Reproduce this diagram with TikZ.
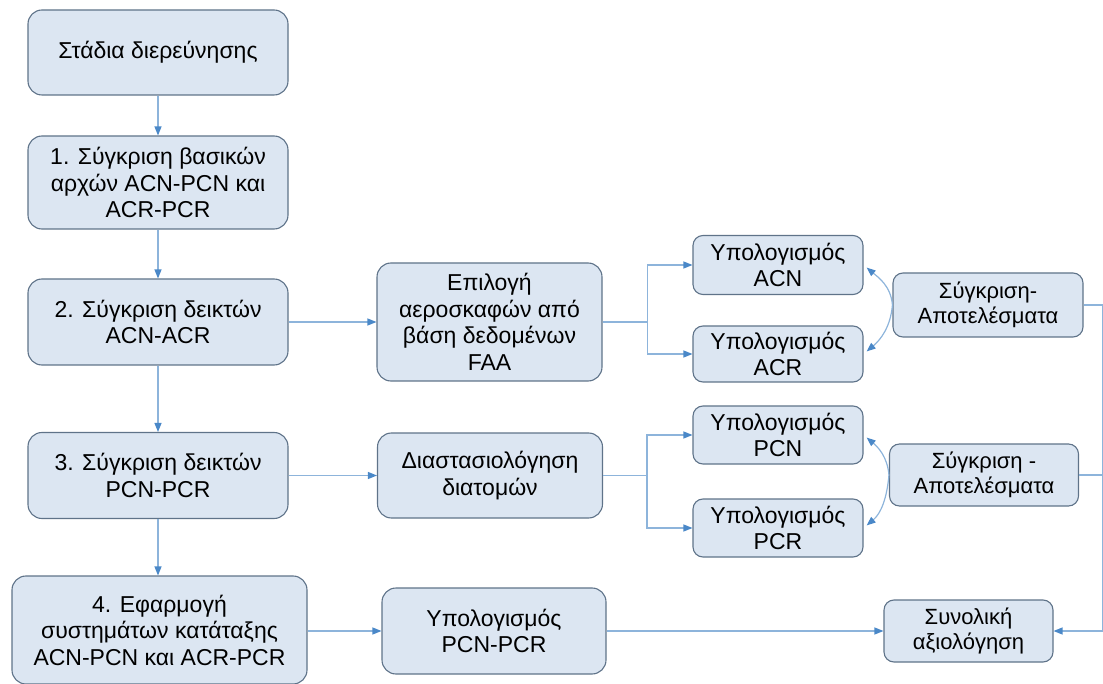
\documentclass[tikz,border=0pt]{standalone}
\usepackage{fontspec}
\setmainfont{Liberation Sans}
\usetikzlibrary{positioning, arrows.meta, calc}
\definecolor{boxfill}{HTML}{DCE6F2}
\definecolor{boxline}{HTML}{5F7389}
\definecolor{linkblue}{HTML}{8DB4DB}
\definecolor{tipblue}{HTML}{4A88C8}

\begin{document}
\begin{tikzpicture}[x=1pt, y=-1pt,
          b/.style={draw=boxline, fill=boxfill, line width=1.1pt, rounded corners=14pt, align=center,
                    font=\fontsize{23}{26.5}\selectfont, inner sep=2pt},
          s/.style={b, rounded corners=10pt},
          r/.style={s, font=\fontsize{22}{24.5}\selectfont},
          ln/.style={draw=linkblue, line width=1.2pt, -{Triangle[length=9pt, width=7pt, color=tipblue]}},
          pl/.style={draw=linkblue, line width=1.2pt}]
        \useasboundingbox (0,0) rectangle (1103,684);
        % left column: stages
        \node[b, minimum width=260pt, minimum height=85pt] (st) at (158,52.5) {Στάδια διερεύνησης};
        \node[b, minimum width=260pt, minimum height=93pt] (s1) at (158,182.5) {1. Σύγκριση βασικών\\αρχών ACN-PCN και\\ACR-PCR};
        \node[b, minimum width=260pt, minimum height=86pt] (s2) at (158,322) {2. Σύγκριση δεικτών\\ACN-ACR};
        \node[b, minimum width=260pt, minimum height=86pt] (s3) at (158,475.5) {3. Σύγκριση δεικτών\\PCN-PCR};
        \node[b, minimum width=295pt, minimum height=108pt] (s4) at (159.5,630) {4. Εφαρμογή\\συστημάτων κατάταξης\\ACN-PCN και ACR-PCR};
        % middle column
        \node[b, minimum width=225pt, minimum height=118pt] (sel) at (489.5,322) {Επιλογή\\αεροσκαφών από\\βάση δεδομένων\\FAA};
        \node[b, minimum width=225pt, minimum height=85pt] (dim) at (490,475.5) {Διαστασιολόγηση\\διατομών};
        \node[b, minimum width=224pt, minimum height=86pt] (calc) at (494,631) {Υπολογισμός\\PCN-PCR};
        % calculation boxes
        \node[s, minimum width=170pt, minimum height=59pt] (acn) at (778,265) {Υπολογισμός\\ACN};
        \node[s, minimum width=170pt, minimum height=56pt] (acr) at (778,354) {Υπολογισμός\\ACR};
        \node[s, minimum width=170pt, minimum height=58pt] (pcn) at (778,435) {Υπολογισμός\\PCN};
        \node[s, minimum width=170pt, minimum height=58pt] (pcr) at (778,528) {Υπολογισμός\\PCR};
        % results
        \node[r, minimum width=190pt, minimum height=64pt] (cmpa) at (988,305) {Σύγκριση-\\Αποτελέσματα};
        \node[r, minimum width=189pt, minimum height=62pt] (cmpb) at (984,475) {Σύγκριση -\\Αποτελέσματα};
        \node[r, minimum width=169pt, minimum height=62pt] (tot) at (968.5,631) {Συνολική\\αξιολόγηση};
        \coordinate (edge) at (1102.5,305);

        \draw[ln] (st) -- (s1);
        \draw[ln] (s1) -- (s2);
        \draw[ln] (s2) -- (s3);
        \draw[ln] (s3) -- (s3 |- s4.north);
        \draw[ln] (s2) -- (sel);
        \draw[ln] (s3) -- (dim);
        \draw[ln] (s4.east |- calc) -- (calc);
        \draw[ln] (calc) -- (tot);
        \draw[ln] (sel.east) -- ++(45,0) |- (acn);
        \draw[ln] (sel.east) -- ++(45,0) |- (acr);
        \draw[ln] (dim.east) -- ++(44,0) |- (pcn);
        \draw[ln] (dim.east) -- ++(44,0) |- (pcr);
        % two-way comparison arcs
        \draw[ln, shorten >=4pt] (cmpa.west) to[out=95, in=-40] (acn.east);
        \draw[ln, shorten >=4pt] (cmpa.west) to[out=-95, in=40] (acr.east);
        \draw[ln, shorten >=4pt] (cmpb.west) to[out=95, in=-40] (pcn.east);
        \draw[ln, shorten >=4pt] (cmpb.west) to[out=-95, in=40] (pcr.east);
        % results gathered on the right
        \draw[ln] (cmpa) -- (edge) |- (tot);
        \draw[pl] (cmpb) -- (cmpb -| edge);
      \end{tikzpicture}
\end{document}
